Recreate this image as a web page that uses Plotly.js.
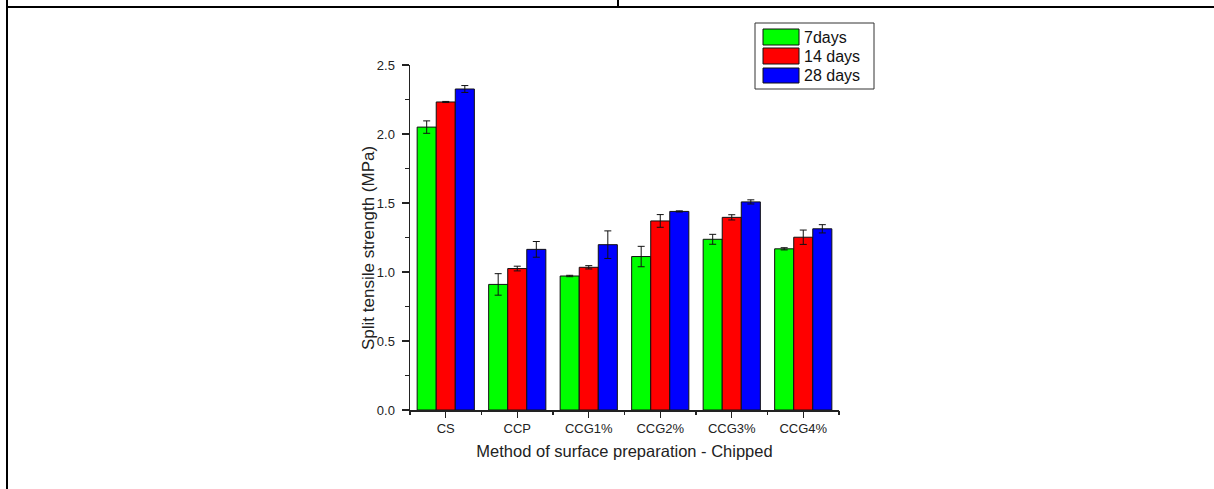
<!DOCTYPE html>
<html>
<head>
<meta charset="utf-8">
<script src="https://cdn.plot.ly/plotly-3.0.1.min.js"></script>
<style>
  html, body { margin: 0; padding: 0; background: #fff; }
  #wrap { position: relative; width: 1214px; height: 489px; overflow: hidden; }
  #chart { position: absolute; left: 0; top: 0; width: 1214px; height: 489px; }
  .ln { position: absolute; background: #000; }
</style>
</head>
<body>
<div id="wrap">
  <div id="chart"></div>
  <div class="ln" style="left:6px; top:6px; width:1208px; height:2px;"></div>
  <div class="ln" style="left:6px; top:0px; width:2px; height:489px;"></div>
  <div class="ln" style="left:617px; top:0px; width:2px; height:7px;"></div>
</div>
<script>
// ---- data ----
const categories = ["CS", "CCP", "CCG1%", "CCG2%", "CCG3%", "CCG4%"];
const seriesNames = ["7days", "14 days", "28 days"];
const seriesColors = ["#00ff00", "#ff0000", "#0000ff"];
const days7 = [2.05, 0.91, 0.971, 1.112, 1.237, 1.168];
const days7Err = [0.045, 0.078, 0.005, 0.074, 0.036, 0.008];
const days14 = [2.232, 1.025, 1.034, 1.370, 1.396, 1.252];
const days14Err = [0.004, 0.017, 0.012, 0.046, 0.019, 0.052];
const days28 = [2.326, 1.164, 1.198, 1.439, 1.508, 1.313];
const days28Err = [0.025, 0.057, 0.100, 0.004, 0.015, 0.030];
const yTickVals = [0.0, 0.5, 1.0, 1.5, 2.0, 2.5];
const yTickText = ["0.0", "0.5", "1.0", "1.5", "2.0", "2.5"];
const xTitle = "Method of surface preparation - Chipped";
const yTitle = "Split tensile strength (MPa)";

const values = [days7, days14, days28];
const errs = [days7Err, days14Err, days28Err];

// ---- plot geometry (px) ----
const W = 1214, H = 489;
const L = 410, R = 839, T = 65, B = 410;
const px2x = p => (p - L) / (R - L);
const px2y = p => (B - p) / (B - T);

const font = "Arial, 'Liberation Sans', sans-serif";
const traces = values.map((v, i) => ({
  type: "bar",
  x: categories,
  y: v,
  name: seriesNames[i],
  marker: { color: seriesColors[i], line: { color: "#111", width: 1 } },
  error_y: { type: "data", array: errs[i], visible: true, color: "#111", thickness: 1, width: 3.5 },
  showlegend: false,
  hoverinfo: "x+y"
}));

// boundary ticks via overlay numeric axis
const boundaries = [];
for (let k = 0; k <= categories.length; k++) boundaries.push(k - 0.5);
traces.push({
  type: "scatter", x: [0], y: [0], xaxis: "x2", mode: "markers",
  marker: { opacity: 0 }, showlegend: false, hoverinfo: "skip"
});

// custom legend
const legendBox = { x0: 755, x1: 874, y0: 23, y1: 89 };
const swatchX = [763, 799];
const swatchY = [[29, 45], [48, 64], [68, 83]];
const shapes = [{
  type: "rect", xref: "paper", yref: "paper",
  x0: px2x(legendBox.x0), x1: px2x(legendBox.x1),
  y0: px2y(legendBox.y1), y1: px2y(legendBox.y0),
  line: { color: "#333", width: 1 }, fillcolor: "rgba(0,0,0,0)"
}];
const annotations = [];
seriesNames.forEach((n, i) => {
  shapes.push({
    type: "rect", xref: "paper", yref: "paper",
    x0: px2x(swatchX[0]), x1: px2x(swatchX[1]),
    y0: px2y(swatchY[i][1]), y1: px2y(swatchY[i][0]),
    line: { color: "#111", width: 1 }, fillcolor: seriesColors[i]
  });
  annotations.push({
    xref: "paper", yref: "paper", x: px2x(802), y: px2y((swatchY[i][0] + swatchY[i][1]) / 2 + 0.5),
    xanchor: "left", yanchor: "middle", text: n, showarrow: false,
    font: { family: font, size: 16, color: "#111" }
  });
});
// y-axis title (positioned as in the reference)
annotations.push({
  xref: "paper", yref: "paper", x: px2x(368), y: px2y(248),
  xanchor: "center", yanchor: "middle", textangle: -90, text: yTitle, showarrow: false,
  font: { family: font, size: 17, color: "#222" }
});

const layout = {
  width: W, height: H,
  margin: { l: L, r: W - R, t: T, b: H - B, pad: 0 },
  paper_bgcolor: "rgba(0,0,0,0)", plot_bgcolor: "rgba(0,0,0,0)",
  barmode: "group", bargap: 0.2, bargroupgap: 0,
  font: { family: font, size: 13, color: "#222" },
  xaxis: {
    type: "category", range: [-0.5, categories.length - 0.5],
    showline: true, linecolor: "#222", linewidth: 1.5,
    ticks: "outside", ticklen: 6, tickwidth: 1.2, tickcolor: "#222",
    showgrid: false, zeroline: false,
    tickfont: { family: font, size: 13, color: "#222" },
    title: { text: xTitle, font: { family: font, size: 16.5, color: "#222" }, standoff: 10 },
    automargin: false, fixedrange: true
  },
  xaxis2: {
    overlaying: "x", anchor: "y", side: "bottom", range: [-0.5, categories.length - 0.5],
    tickvals: boundaries, showticklabels: false, ticks: "outside", ticklen: 4, tickwidth: 1.2, tickcolor: "#222",
    showgrid: false, zeroline: false, showline: false, fixedrange: true
  },
  yaxis: {
    range: [0, 2.5], tickvals: yTickVals, ticktext: yTickText,
    showline: true, linecolor: "#222", linewidth: 1.5,
    ticks: "outside", ticklen: 7, tickwidth: 1.2, tickcolor: "#222",
    ticklabelstandoff: 4,
    minor: { dtick: 0.25, ticks: "outside", ticklen: 4, tickwidth: 1.2, tickcolor: "#222", showgrid: false },
    showgrid: false, zeroline: false,
    tickfont: { family: font, size: 13, color: "#222" },
    automargin: false, fixedrange: true
  },
  shapes: shapes,
  annotations: annotations
};

Plotly.newPlot("chart", traces, layout, { displayModeBar: false, staticPlot: true });
</script>
</body>
</html>
